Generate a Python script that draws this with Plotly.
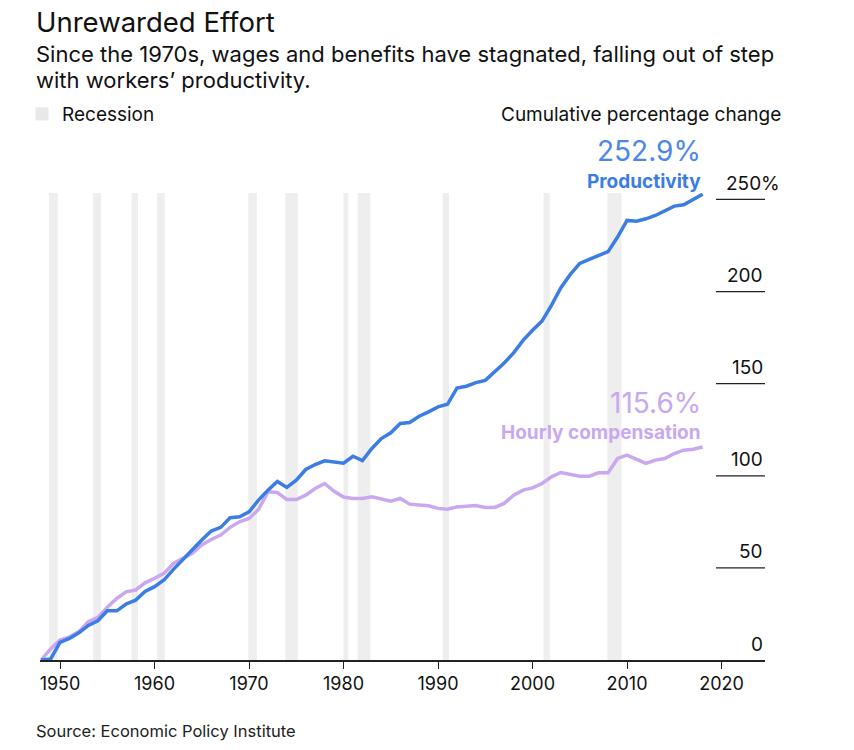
import plotly.graph_objects as go

# ---------------- data ----------------
years = list(range(1948, 2019))
productivity = [0.0, 0.5, 9.6, 11.7, 14.8, 18.8, 21.3, 26.7, 26.7, 30.4,
                32.5, 37.2, 39.8, 43.4, 49.2, 54.6, 59.7, 65.1, 70.0, 72.0,
                77.2, 77.7, 80.4, 86.8, 92.2, 96.9, 93.7, 97.6, 103.4, 106.1,
                108.1, 107.5, 106.8, 110.6, 108.3, 114.8, 120.2, 123.3, 128.4, 128.9,
                132.3, 134.7, 137.4, 138.8, 147.6, 148.6, 150.6, 151.8, 156.3, 161.2,
                166.7, 173.5, 179.0, 184.0, 192.5, 202.1, 209.3, 215.3, 217.5, 219.7,
                221.7, 229.6, 238.6, 238.2, 239.5, 241.3, 243.7, 246.4, 247.1, 250.0,
                252.9]
compensation = [0.0, 6.0, 10.8, 12.6, 15.4, 20.8, 23.1, 28.6, 33.4, 37.0,
                38.0, 41.9, 44.3, 47.0, 52.4, 55.1, 57.9, 62.4, 65.4, 67.8,
                72.0, 75.0, 76.8, 81.7, 91.3, 90.9, 87.1, 87.1, 89.5, 93.1,
                95.8, 91.6, 88.5, 87.7, 87.7, 88.6, 87.3, 86.2, 87.7, 84.6,
                84.1, 83.7, 82.3, 81.9, 83.1, 83.5, 83.9, 82.8, 82.8, 85.0,
                89.5, 92.2, 93.4, 95.8, 99.4, 101.8, 100.7, 99.8, 99.8, 101.6,
                101.6, 109.4, 111.2, 108.8, 106.7, 108.5, 109.4, 112.1, 113.9, 114.4,
                115.6]
recession_start = [1948.83, 1953.50, 1957.58, 1960.25, 1969.92, 1973.83,
                   1980.00, 1981.50, 1990.50, 2001.17, 2007.92]
recession_end = [1949.75, 1954.33, 1958.25, 1961.08, 1970.83, 1975.17,
                 1980.50, 1982.83, 1991.17, 2001.83, 2009.42]
y_ticks = [0, 50, 100, 150, 200, 250]
y_tick_labels = ["0", "50", "100", "150", "200", "250%"]
x_ticks = [1950, 1960, 1970, 1980, 1990, 2000, 2010, 2020]

BLUE = "#3b7de3"
PURPLE = "#c9a8f0"
BAND = "#eeeeee"
FONT = "Inter, 'Liberation Sans', Arial, sans-serif"

# layout geometry (page body margin removed via post_script)
W, H = 854, 750
L = 40
T = 193
R = W - 765
B = H - 660
PW, PH = W - L - R, H - T - B


def xp(px):
    """screen pixel -> paper x"""
    return (px - L) / PW


def yp(py):
    """screen pixel -> paper y"""
    return (H - B - py) / PH


fig = go.Figure()

fig.add_trace(go.Scatter(
    x=years, y=compensation, mode="lines", name="Hourly compensation",
    line=dict(color=PURPLE, width=3.5), showlegend=False, hoverinfo="skip"))
fig.add_trace(go.Scatter(
    x=years, y=productivity, mode="lines", name="Productivity",
    line=dict(color=BLUE, width=3.5), showlegend=False, hoverinfo="skip"))
# legend entry for recession bands
fig.add_trace(go.Scatter(
    x=[None], y=[None], mode="markers", name="Recession",
    marker=dict(symbol="square", size=13, color="#e8e8e8"),
    showlegend=True, hoverinfo="skip"))

shapes = []
for s, e in zip(recession_start, recession_end):
    shapes.append(dict(type="rect", xref="x", yref="paper", x0=s, x1=e, y0=0, y1=1,
                       fillcolor=BAND, line=dict(width=0), layer="below"))
for v in y_ticks[1:]:
    shapes.append(dict(type="line", xref="paper", yref="y", x0=xp(716), x1=1,
                       y0=v, y1=v, line=dict(color="#222", width=1.3)))

annotations = []
for v, t in zip(y_ticks, y_tick_labels):
    annotations.append(dict(x=1, y=v, xref="paper", yref="y", text=t,
                            showarrow=False, xanchor="right", yanchor="middle",
                            xshift=17 if t.endswith("%") else 0,
                            yshift=16, font=dict(family=FONT, size=19, color="#111")))

# end labels
annotations += [
    dict(x=years[-1], y=productivity[-1], xref="x", yref="y",
         text="Productivity", showarrow=False, xanchor="right", yanchor="middle",
         yshift=13, font=dict(family=FONT, size=19, color=BLUE, weight="bold")),
    dict(x=years[-1], y=productivity[-1], xref="x", yref="y",
         text=f"{productivity[-1]:.1f}%", showarrow=False, xanchor="right",
         yanchor="middle", yshift=43, font=dict(family=FONT, size=28, color="#4a87e8")),
    dict(x=years[-1], y=compensation[-1], xref="x", yref="y",
         text="Hourly compensation", showarrow=False, xanchor="right", yanchor="middle",
         yshift=15, font=dict(family=FONT, size=19, color=PURPLE, weight="bold")),
    dict(x=years[-1], y=compensation[-1], xref="x", yref="y",
         text=f"{compensation[-1]:.1f}%", showarrow=False, xanchor="right",
         yanchor="middle", yshift=44, font=dict(family=FONT, size=28, color=PURPLE)),
]

# titles and notes
annotations += [
    dict(x=xp(34), y=yp(22), xref="paper", yref="paper", text="Unrewarded Effort",
         showarrow=False, xanchor="left", yanchor="middle",
         font=dict(family=FONT, size=27.5, color="#111")),
    dict(x=xp(34), y=yp(54), xref="paper", yref="paper",
         text="Since the 1970s, wages and benefits have stagnated, falling out of step",
         showarrow=False, xanchor="left", yanchor="middle", align="left",
         font=dict(family=FONT, size=22, color="#111")),
    dict(x=xp(34), y=yp(80), xref="paper", yref="paper",
         text="with workers’ productivity.",
         showarrow=False, xanchor="left", yanchor="middle", align="left",
         font=dict(family=FONT, size=22, color="#111")),
    dict(x=xp(783), y=yp(114), xref="paper", yref="paper",
         text="Cumulative percentage change", showarrow=False, xanchor="right",
         yanchor="middle", font=dict(family=FONT, size=19, color="#111")),
    dict(x=xp(34), y=yp(731), xref="paper", yref="paper",
         text="Source: Economic Policy Institute", showarrow=False, xanchor="left",
         yanchor="middle", font=dict(family=FONT, size=16.5, color="#222")),
]

fig.update_layout(
    width=W, height=H,
    margin=dict(l=L, r=R, t=T, b=B, pad=0),
    paper_bgcolor="white", plot_bgcolor="white",
    font=dict(family=FONT, color="#111"),
    shapes=shapes, annotations=annotations,
    showlegend=True,
    legend=dict(x=xp(22), y=yp(114), xanchor="left", yanchor="middle",
                font=dict(family=FONT, size=19, color="#111"),
                bgcolor="rgba(0,0,0,0)", borderwidth=0, itemclick=False),
    xaxis=dict(range=[1947.88, 2024.6], tickvals=x_ticks, ticks="outside",
               ticklen=7, tickwidth=1.3, tickcolor="#222", showgrid=False,
               zeroline=False, showline=True, linecolor="#222", linewidth=1.5,
               tickfont=dict(family=FONT, size=18, color="#111"), fixedrange=True),
    yaxis=dict(range=[0, 253.5], showticklabels=False, showgrid=False,
               zeroline=False, showline=False, ticks="", fixedrange=True),
    hovermode=False,
)

fig.write_html("out.html",
               config={"displayModeBar": False},
               post_script="document.body.style.margin='0px';")
